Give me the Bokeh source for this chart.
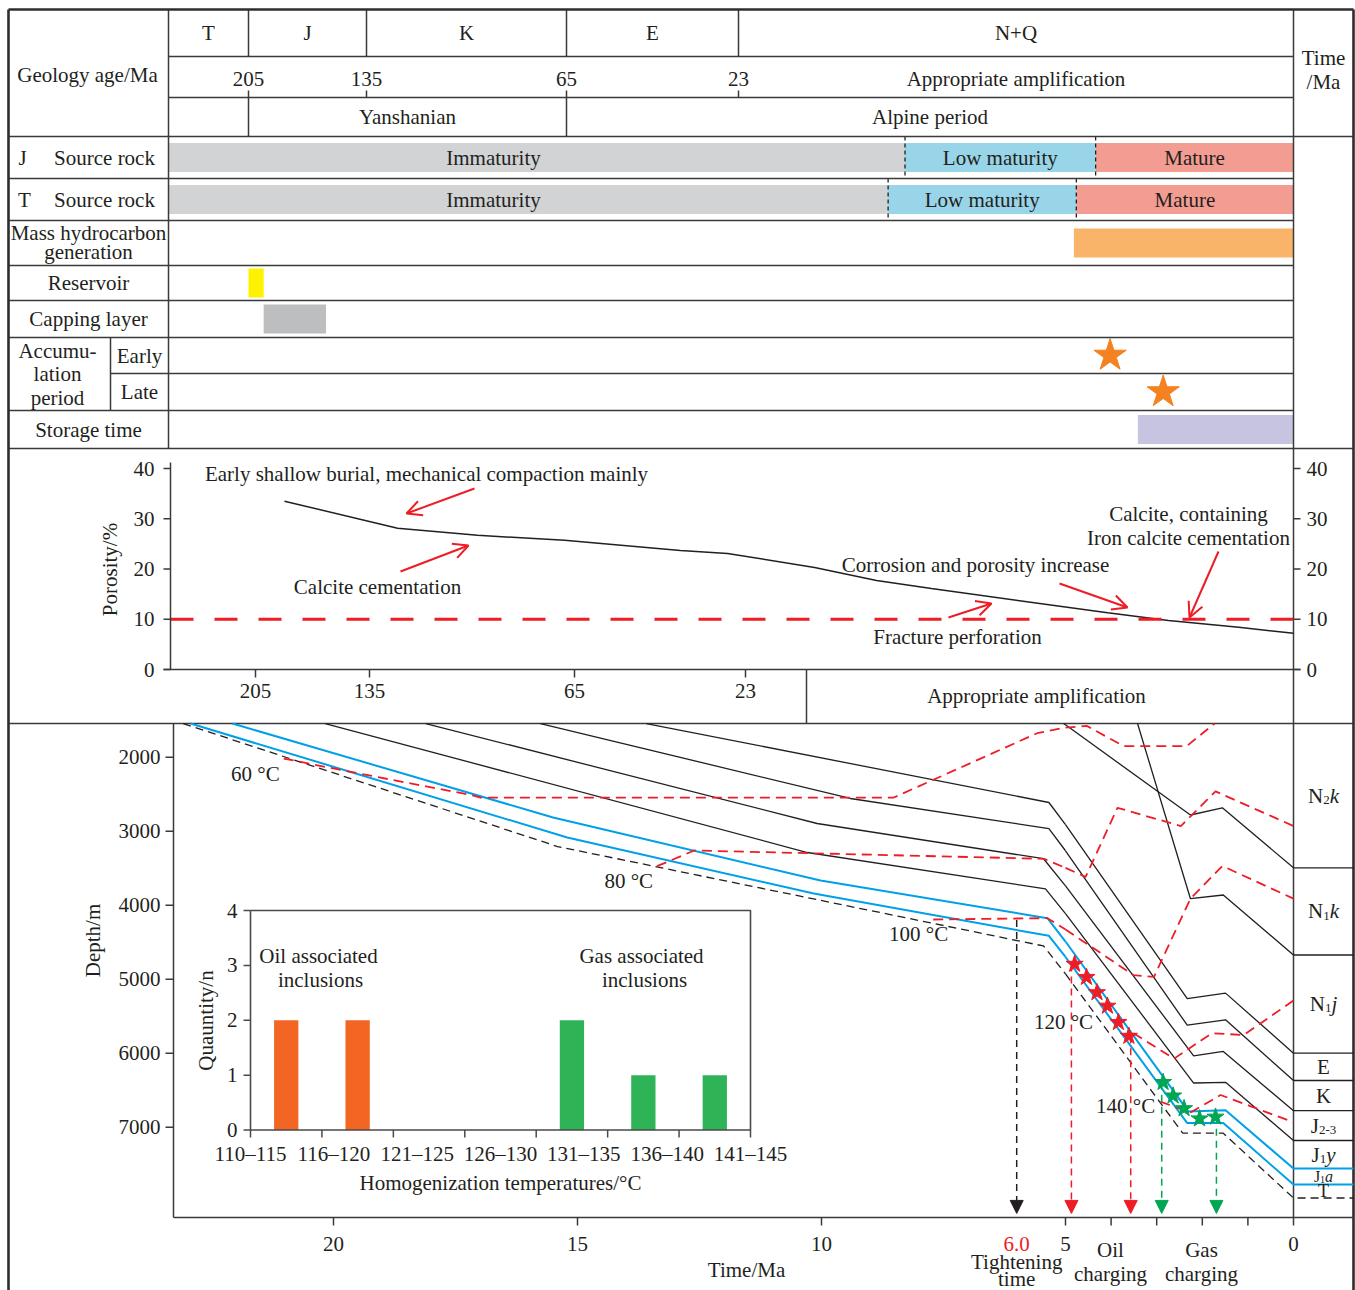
import numpy as np
from bokeh.plotting import figure
from bokeh.models import Range1d, Arrow, NormalHead, OpenHead
from bokeh.core.properties import value
from bokeh.embed import file_html
from bokeh.resources import INLINE

W, H = 1355, 1290
SERIF = value("Liberation Serif")
INK = "#231F20"
RULE = "#3A3A3A"
RED = "#EE1C25"
BLUE = "#00A0E9"
GREEN = "#00A651"

# ---------------- geological time scale ----------------
periods = ["T", "J", "K", "E", "N+Q"]
period_bounds = [252, 205, 135, 65, 23, 0]          # Ma
age_ticks = [205, 135, 65, 23]
orogenies = ["Yanshanian", "Alpine period"]
orogeny_bounds = [205, 65, 0]

# ---------------- petroleum-system events (Ma) ----------------
stage_names = ["Immaturity", "Low maturity", "Mature"]
stage_colors = ["#D1D3D4", "#98D5E8", "#F29C92"]
j_source_bounds = [252, 16.1, 8.2, 0]
t_source_bounds = [252, 16.8, 9.0, 0]
hc_generation = [9.1, 0]
reservoir = [205, 196]
capping = [196, 159]
accumulation_early = 7.6
accumulation_late = 5.4
storage = [6.45, 0]

# ---------------- porosity evolution ----------------
poro_age = [187.2, 125.4, 98.1, 68.4, 39.0, 27.4, 20.1, 17.5, 15.2, 11.5, 7.8, 5.25, 2.3, 0.0]
poro_val = [33.5, 28.1, 26.7, 25.7, 23.7, 23.1, 20.3, 17.7, 16.1, 13.7, 11.3, 9.75, 8.4, 7.2]
poro_cutoff = 10
poro_ticks = [0, 10, 20, 30, 40]
poro_age_ticks = [205, 135, 65, 23]

# ---------------- burial history: base of each unit (time Ma, depth m) ----------------
unit_names = [("N", "2", "k"), ("N", "1", "k"), ("N", "1", "j"), ("E", "", ""), ("K", "", ""),
              ("J", "2-3", ""), ("J", "1", "y"), ("J", "1", "a"), ("T", "", "")]
unit_base_t = [
    [5.04, 2.26, 1.56, 0.0],
    [3.42, 2.26, 1.54, 0.0],
    [13.59, 5.34, 2.33, 1.49, 0.0],
    [15.76, 9.41, 5.34, 2.33, 1.49, 0.0],
    [18.11, 10.09, 5.45, 2.19, 1.54, 0.0],
    [20.17, 10.29, 5.41, 2.19, 1.49, 0.0],
    [22.07, 15.50, 10.02, 5.37, 2.31, 1.49, 0.0],
    [22.93, 15.21, 10.16, 5.34, 2.33, 1.54, 0.0],
    [23.08, 15.41, 5.45, 2.43, 1.54, 0.0],
]
unit_base_d = [
    [1545, 2781, 2684, 3495],
    [1545, 3912, 3862, 4673],
    [1545, 2612, 5262, 5188, 6000],
    [1545, 2558, 2964, 5622, 5549, 6369],
    [1545, 2896, 3372, 6035, 5976, 6777],
    [1545, 3288, 3780, 6403, 6393, 7180],
    [1545, 2815, 3666, 4175, 6787, 6772, 7558],
    [1545, 3085, 3842, 4414, 6944, 6944, 7775],
    [1545, 3207, 4551, 7081, 7081, 7957],
]
unit_style = ["solid"] * 6 + ["reservoir", "reservoir", "base"]

# isotherms
iso_labels = ["60 °C", "80 °C", "100 °C", "120 °C", "140 °C"]
iso_t = [
    [21.02, 19.79, 17.13, 16.99, 8.52, 5.58, 5.04, 4.53, 3.73, 2.34, 1.73],
    [13.37, 12.61, 5.44, 4.56, 3.86, 2.47, 1.71, 0.0],
    [7.71, 5.37, 3.51, 3.06, 2.26, 1.56, 0.0],
    [3.51, 2.62, 1.79, 1.09, 0.0],
    [2.92, 2.26, 1.60, 0.95, 0.0],
]
iso_d = [
    [2018, 2180, 2518, 2545, 2545, 1676, 1603, 1578, 1849, 1849, 1545],
    [3473, 3261, 3373, 3618, 2684, 2930, 2462, 2930],
    [4193, 4175, 4944, 4969, 3912, 3470, 3912],
    [5730, 6074, 5730, 5754, 5288],
    [6654, 6801, 6565, 6714, 6934],
]
iso_label_t = [21.60, 13.95, 8.01, 5.04, 3.68]
iso_label_d = [2224, 3669, 4387, 5583, 6714]

# fluid-inclusion timing on the burial path
oil_star_t = [4.80, 4.54, 4.31, 4.08, 3.84, 3.61]
oil_star_d = [4796, 4973, 5180, 5362, 5583, 5769]
gas_star_t = [2.86, 2.64, 2.40, 2.06, 1.71]
gas_star_d = [6393, 6576, 6747, 6885, 6861]

# event arrows: time (Ma), starting depth (m), colour
tightening_time = 6.0
event_t = [tightening_time, 4.87, 3.57, 2.89, 1.69]
event_d = [4200, 4800, 5770, 6400, 6860]
event_color = [INK, RED, RED, GREEN, GREEN]

depth_ticks = [2000, 3000, 4000, 5000, 6000, 7000]
time_ticks = [20, 15, 10, 5, 4, 3, 2, 1, 0]
time_labels = [20, 15, 10, 5, 0]

# homogenization temperatures of fluid inclusions
temp_bins = ["110–115", "116–120", "121–125", "126–130", "131–135", "136–140", "141–145"]
inclusion_counts = [2, 2, 0, 0, 2, 1, 1]
inclusion_kind = ["oil", "oil", "", "", "gas", "gas", "gas"]
count_ticks = [0, 1, 2, 3, 4]

# ---------------- layout ----------------
L_X, HEAD_X, ACC_X, R_X, RR_X = 8, 168, 110, 1293, 1353
TOP = 9
ROWS = {"period": (9, 56), "age": (56, 97), "orog": (97, 136), "j": (136, 178), "t": (178, 220),
        "hc": (220, 265), "res": (265, 300), "cap": (300, 337), "early": (337, 373),
        "late": (373, 410), "store": (410, 448)}
POR_TOP, POR_AX_BOT, POR_BOT = 448, 669, 723
BUR_LEFT, BUR_BOT = 173, 1217
BAR_H = 29

TABLE_AGE = [252, 205, 135, 65, 23, 0]
TABLE_PX = [168, 248, 366, 566, 738, 1293]
POR_AGE = [257, 205, 135, 65, 23, 0]
POR_PX = [170, 255, 369, 574, 745, 1293]

# the burial time axis is drawn at two scales: older than 5 Ma and the last 5 Ma
T_SPLIT = 5
T_SPLIT_PX, T20_PX, T0_PX = 1065, 333, 1293


def age_x(ages, ref_age, ref_px):
    return np.interp(-np.asarray(ages, float), -np.asarray(ref_age, float), ref_px)


def tx(ages):
    return age_x(ages, TABLE_AGE, TABLE_PX)


def px_(ages):
    return age_x(ages, POR_AGE, POR_PX)


def lin_range(v_a, px_a, v_b, px_b, size, vertical=False):
    k = (v_b - v_a) / (px_b - px_a)
    v_near = v_a - px_a * k
    v_far = v_a + (size - px_a) * k
    return Range1d(start=v_far, end=v_near) if vertical else Range1d(start=v_near, end=v_far)


p = figure(width=W, height=H, x_range=Range1d(0, W), y_range=Range1d(H, 0),
           output_backend="svg", toolbar_location=None, min_border=0,
           x_axis_location=None, y_axis_location=None,
           background_fill_color="white", border_fill_color="white")
p.outline_line_color = None
p.xgrid.visible = False
p.ygrid.visible = False

p.extra_x_ranges = {"t_old": lin_range(T_SPLIT, T_SPLIT_PX, 20, T20_PX, W),
                    "t_young": lin_range(0, T0_PX, T_SPLIT, T_SPLIT_PX, W),
                    "bin": lin_range(0, 250, 7, 750, W)}
p.extra_y_ranges = {"dep": lin_range(2000, 756.7, 7000, 1126.7, H, True),
                    "por": lin_range(0, POR_AX_BOT, 40, 468, H, True),
                    "cnt": lin_range(0, 1129.5, 4, 910, H, True)}
T_RIGHT = (RR_X - T0_PX) * T_SPLIT / (T_SPLIT_PX - T0_PX)


def trange(t):
    return "t_old" if t >= T_SPLIT else "t_young"


def txt(x, y, s, size="21px", align="center", baseline="middle", color=INK,
        xr="default", yr="default", angle=0.0, style="normal", xo=0, yo=0):
    p.text(x=[x], y=[y], text=[s], text_font=SERIF, text_font_size=size,
           text_align=align, text_baseline=baseline, text_color=color,
           angle=angle, text_font_style=style, x_offset=xo, y_offset=yo,
           x_range_name=xr, y_range_name=yr)


def segs(x0, y0, x1, y1, color=RULE, width=1.5, dash="solid", xr="default", yr="default"):
    p.segment(x0=x0, y0=y0, x1=x1, y1=y1, line_color=color, line_width=width,
              line_dash=dash, x_range_name=xr, y_range_name=yr)


def time_line(ts, ds, **kw):
    """Draw a (time, depth) path, switching time scale at the 5 Ma break."""
    old_t, old_d, yng_t, yng_d = [], [], [], []
    for i, (t, d) in enumerate(zip(ts, ds)):
        if t >= T_SPLIT:
            old_t.append(t); old_d.append(d)
        if t <= T_SPLIT:
            yng_t.append(t); yng_d.append(d)
        if i + 1 < len(ts) and (t - T_SPLIT) * (ts[i + 1] - T_SPLIT) < 0:
            f = (t - T_SPLIT) / (t - ts[i + 1])
            dm = d + f * (ds[i + 1] - d)
            old_t.append(T_SPLIT); old_d.append(dm)
            yng_t.insert(0, T_SPLIT); yng_d.insert(0, dm)
    if len(old_t) > 1:
        p.line(old_t, old_d, x_range_name="t_old", y_range_name="dep", **kw)
    if len(yng_t) > 1:
        p.line(yng_t, yng_d, x_range_name="t_young", y_range_name="dep", **kw)


# ================= event table =================
def row_mid(key):
    a, b = ROWS[key]
    return (a + b) / 2


def bar(key, start, end, color):
    m = row_mid(key)
    p.quad(left=tx([start])[0], right=tx([end])[0], top=m - BAR_H / 2, bottom=m + BAR_H / 2,
           fill_color=color, line_color=None)


for key, bounds in (("j", j_source_bounds), ("t", t_source_bounds)):
    xs = tx(bounds)
    m = row_mid(key)
    p.quad(left=xs[:-1], right=xs[1:], top=m - BAR_H / 2, bottom=m + BAR_H / 2,
           fill_color=stage_colors, line_color=None)
    a, b = ROWS[key]
    segs(list(xs[1:-1]), [a] * 2, list(xs[1:-1]), [b] * 2, color=INK, width=1.3, dash="4 3")
    for name, s, e in zip(stage_names, bounds[:-1], bounds[1:]):
        lo = min(s, 205)
        hi = max(e, 23) if s > 23 else e
        txt((tx([lo])[0] + tx([hi])[0]) / 2, m, name)

bar("hc", hc_generation[0], hc_generation[1], "#FAB469")
bar("res", reservoir[0], reservoir[1], "#FFF200")
bar("cap", capping[0], capping[1], "#BCBEC0")
bar("store", storage[0], storage[1], "#C7C4E1")
p.scatter(x=tx([accumulation_early, accumulation_late]), y=[row_mid("early"), row_mid("late")],
          marker="star", size=34, fill_color="#F58220", line_color="#F58220")

# grid of the table
hx0 = [HEAD_X, HEAD_X, L_X, L_X, L_X, L_X, L_X, L_X, ACC_X, L_X, L_X, L_X]
hy = [56, 97, 136, 178, 220, 265, 300, 337, 373, 410, POR_TOP, POR_BOT]
hx1 = [R_X, R_X, RR_X, R_X, R_X, R_X, R_X, R_X, R_X, R_X, RR_X, RR_X]
segs(hx0, hy, hx1, hy)
segs([HEAD_X, ACC_X, R_X], [TOP, 337, TOP], [HEAD_X, ACC_X, R_X], [POR_TOP, 410, BUR_BOT])
pb = list(tx(period_bounds[1:-1]))
segs(pb, [TOP] * len(pb), pb, [56] * len(pb))
ob = list(tx(orogeny_bounds[:-1]))
segs(ob, [97] * len(ob), ob, [136] * len(ob))
at = list(tx(age_ticks))
segs(at, [90] * len(at), at, [97] * len(at))
segs([L_X, L_X, RR_X], [TOP, TOP, TOP], [RR_X, L_X, RR_X], [TOP, H, H], color="#2E2E2E", width=2.6)

# table text
for name, s, e in zip(periods, period_bounds[:-1], period_bounds[1:]):
    txt((tx([s])[0] + tx([e])[0]) / 2, row_mid("period"), name)
for a in age_ticks:
    txt(tx([a])[0], 78, str(a))
txt((tx([23])[0] + R_X) / 2, 78, "Appropriate amplification")
for name, s, e in zip(orogenies, orogeny_bounds[:-1], orogeny_bounds[1:]):
    txt((tx([s])[0] + tx([e])[0]) / 2, row_mid("orog"), name)
txt(1323, 57, "Time")
txt(1323, 81, "/Ma")
txt(87, 74, "Geology age/Ma")
txt(22, row_mid("j"), "J")
txt(104, row_mid("j"), "Source rock")
txt(24, row_mid("t"), "T")
txt(104, row_mid("t"), "Source rock")
txt(88, 232, "Mass hydrocarbon")
txt(88, 251, "generation")
txt(88, row_mid("res"), "Reservoir")
txt(88, row_mid("cap"), "Capping layer")
txt(57, 350, "Accumu-")
txt(57, 373, "lation")
txt(57, 397, "period")
txt(139, row_mid("early"), "Early")
txt(139, row_mid("late"), "Late")
txt(88, row_mid("store"), "Storage time")

# ================= porosity panel =================
p.line(x=px_(poro_age), y=poro_val, y_range_name="por", line_color=INK, line_width=1.5)
p.line(x=px_([POR_AGE[0], 0]), y=[poro_cutoff, poro_cutoff], y_range_name="por",
       line_color=RED, line_width=3, line_dash="23 21")
segs([170], [462], [170], [POR_AX_BOT])
segs([163], [POR_AX_BOT], [1300], [POR_AX_BOT])
n = len(poro_ticks)
segs([163] * n, poro_ticks, [170] * n, poro_ticks, yr="por")
segs([R_X] * n, poro_ticks, [1300] * n, poro_ticks, yr="por")
for v in poro_ticks:
    txt(154, v, str(v), align="right", yr="por")
    txt(1306, v, str(v), align="left", yr="por")
pa = list(px_(poro_age_ticks))
segs(pa, [POR_AX_BOT] * len(pa), pa, [677] * len(pa))
for a, x in zip(poro_age_ticks, pa):
    txt(x, 690, str(a))
segs([806], [POR_AX_BOT], [806], [POR_BOT])
txt(1036, 695, "Appropriate amplification")
txt(109, 569, "Porosity/%", angle=np.pi / 2)
txt(426, 473, "Early shallow burial, mechanical compaction mainly")
txt(377, 586, "Calcite cementation")
txt(975, 564, "Corrosion and porosity increase")
txt(1188, 513, "Calcite, containing")
txt(1188, 537, "Iron calcite cementation")
txt(957, 636, "Fracture perforation")

for (xs_, ys_), (xe, ye) in [((474, 488), (406, 513)), ((400, 571), (468, 545)),
                             ((948, 617), (991, 603)), ((1059, 583), (1127, 607)),
                             ((1218, 551), (1189, 617))]:
    p.add_layout(Arrow(x_start=xs_, y_start=ys_, x_end=xe, y_end=ye, line_color=RED,
                       line_width=2, end=OpenHead(size=15, line_color=RED, line_width=2)))

# ================= burial history =================
for ts, ds, style in zip(unit_base_t, unit_base_d, unit_style):
    xs_ = list(ts) + [T_RIGHT]
    ys_ = list(ds) + [ds[-1]]
    if style == "solid":
        time_line(xs_, ys_, line_color=INK, line_width=1.3)
    elif style == "reservoir":
        time_line(xs_, ys_, line_color=BLUE, line_width=2)
    else:
        time_line(xs_, ys_, line_color=INK, line_width=1.3, line_dash="8 5")

for ts, ds in zip(iso_t, iso_d):
    time_line(ts, ds, line_color=RED, line_width=1.8, line_dash="10 6")
for s, t, d in zip(iso_labels, iso_label_t, iso_label_d):
    txt(t, d, s, xr=trange(t), yr="dep")

for t, d, c in zip(event_t, event_d, event_color):
    p.add_layout(Arrow(x_start=t, y_start=d, x_end=t, y_end=8165, x_range_name=trange(t),
                       y_range_name="dep", line_color=c, line_width=1.5, line_dash="7 5",
                       end=NormalHead(size=13, fill_color=c, line_color=c)))

p.scatter(oil_star_t, oil_star_d, x_range_name="t_young", y_range_name="dep", marker="star",
          size=18, fill_color=RED, line_color=RED)
p.scatter(gas_star_t, gas_star_d, x_range_name="t_young", y_range_name="dep", marker="star",
          size=18, fill_color=GREEN, line_color=GREEN)

# unit names in the right-hand column
mids = [(a + b) / 2 for a, b in zip([1545] + [d[-1] for d in unit_base_d[:-1]],
                                    [d[-1] for d in unit_base_d])]
char_w = {"N": 0.722, "E": 0.611, "K": 0.722, "J": 0.389, "T": 0.611, "1": 0.5, "2": 0.5,
          "3": 0.5, "-": 0.333, "k": 0.444, "j": 0.278, "y": 0.444, "a": 0.5}
t_mid = T_RIGHT / 2
for (base, sub, tail), d in zip(unit_names, mids):
    fs = 16 if tail == "a" else (18 if base == "T" else 21)
    ss = round(fs * 0.6)
    wb = char_w[base] * fs
    wsub = sum(char_w[c] for c in sub) * ss
    wt = sum(char_w[c] for c in tail) * fs
    x0 = -(wb + wsub + wt) / 2
    txt(t_mid, d, base, size=f"{fs}px", align="left", baseline="alphabetic",
        xr="t_young", yr="dep", xo=x0, yo=0)
    if sub:
        txt(t_mid, d, sub, size=f"{ss}px", align="left", baseline="alphabetic",
            xr="t_young", yr="dep", xo=x0 + wb, yo=fs * 0.2)
    if tail:
        txt(t_mid, d, tail, size=f"{fs}px", align="left", baseline="alphabetic",
            xr="t_young", yr="dep", xo=x0 + wb + wsub, yo=0, style="italic")

# burial axes
segs([BUR_LEFT], [POR_BOT], [BUR_LEFT], [BUR_BOT])
segs([BUR_LEFT], [BUR_BOT], [RR_X], [BUR_BOT])
nd = len(depth_ticks)
segs([165] * nd, depth_ticks, [BUR_LEFT] * nd, depth_ticks, yr="dep")
for d in depth_ticks:
    txt(160, d, str(d), align="right", yr="dep")
for t in time_ticks:
    segs([t], [BUR_BOT], [t], [BUR_BOT + 8], xr=trange(t))
for t in time_labels:
    txt(t, 1243, str(t), xr=trange(t))
txt(tightening_time, 1243, f"{tightening_time:.1f}", xr=trange(tightening_time), color=RED)
txt(tightening_time, 1261, "Tightening", xr=trange(tightening_time))
txt(tightening_time, 1278, "time", xr=trange(tightening_time))
txt(1110, 1249, "Oil")
txt(1110, 1273, "charging")
txt(1201, 1249, "Gas")
txt(1201, 1273, "charging")
txt(746, 1269, "Time/Ma")
txt(92, 940, "Depth/m", angle=np.pi / 2)

# ================= inset: homogenization temperatures =================
centers = [i + 0.5 for i, c in enumerate(inclusion_counts) if c > 0]
tops = [c for c in inclusion_counts if c > 0]
cols = ["#F26522" if k == "oil" else "#2EB457" for k, c in zip(inclusion_kind, inclusion_counts) if c > 0]
p.vbar(x=centers, top=tops, bottom=0, width=0.34, fill_color=cols, line_color=None,
       x_range_name="bin", y_range_name="cnt")
nb = len(temp_bins)
p.line(x=[0, 0, nb, nb, 0], y=[4, 0, 0, 4, 4], x_range_name="bin", y_range_name="cnt",
       line_color="#4A4A4A", line_width=1.6)
segs([243] * len(count_ticks), count_ticks, [250] * len(count_ticks), count_ticks, yr="cnt",
     color="#4A4A4A")
for c in count_ticks:
    txt(237, c, str(c), align="right", yr="cnt")
edges = list(range(nb + 1))
segs(edges, [1129.5] * len(edges), edges, [1137] * len(edges), xr="bin", color="#4A4A4A")
for lab, x in zip(temp_bins, np.linspace(0, nb, nb)):
    txt(x, 1153, lab, xr="bin")
txt(318, 955, "Oil associated")
txt(320, 979, "inclusions")
txt(641, 955, "Gas associated")
txt(644, 979, "inclusions")
txt(205, 1020, "Quauntity/n", angle=np.pi / 2)
txt(500, 1182, "Homogenization temperatures/°C")

open("out.html", "w").write(file_html(p, INLINE))
